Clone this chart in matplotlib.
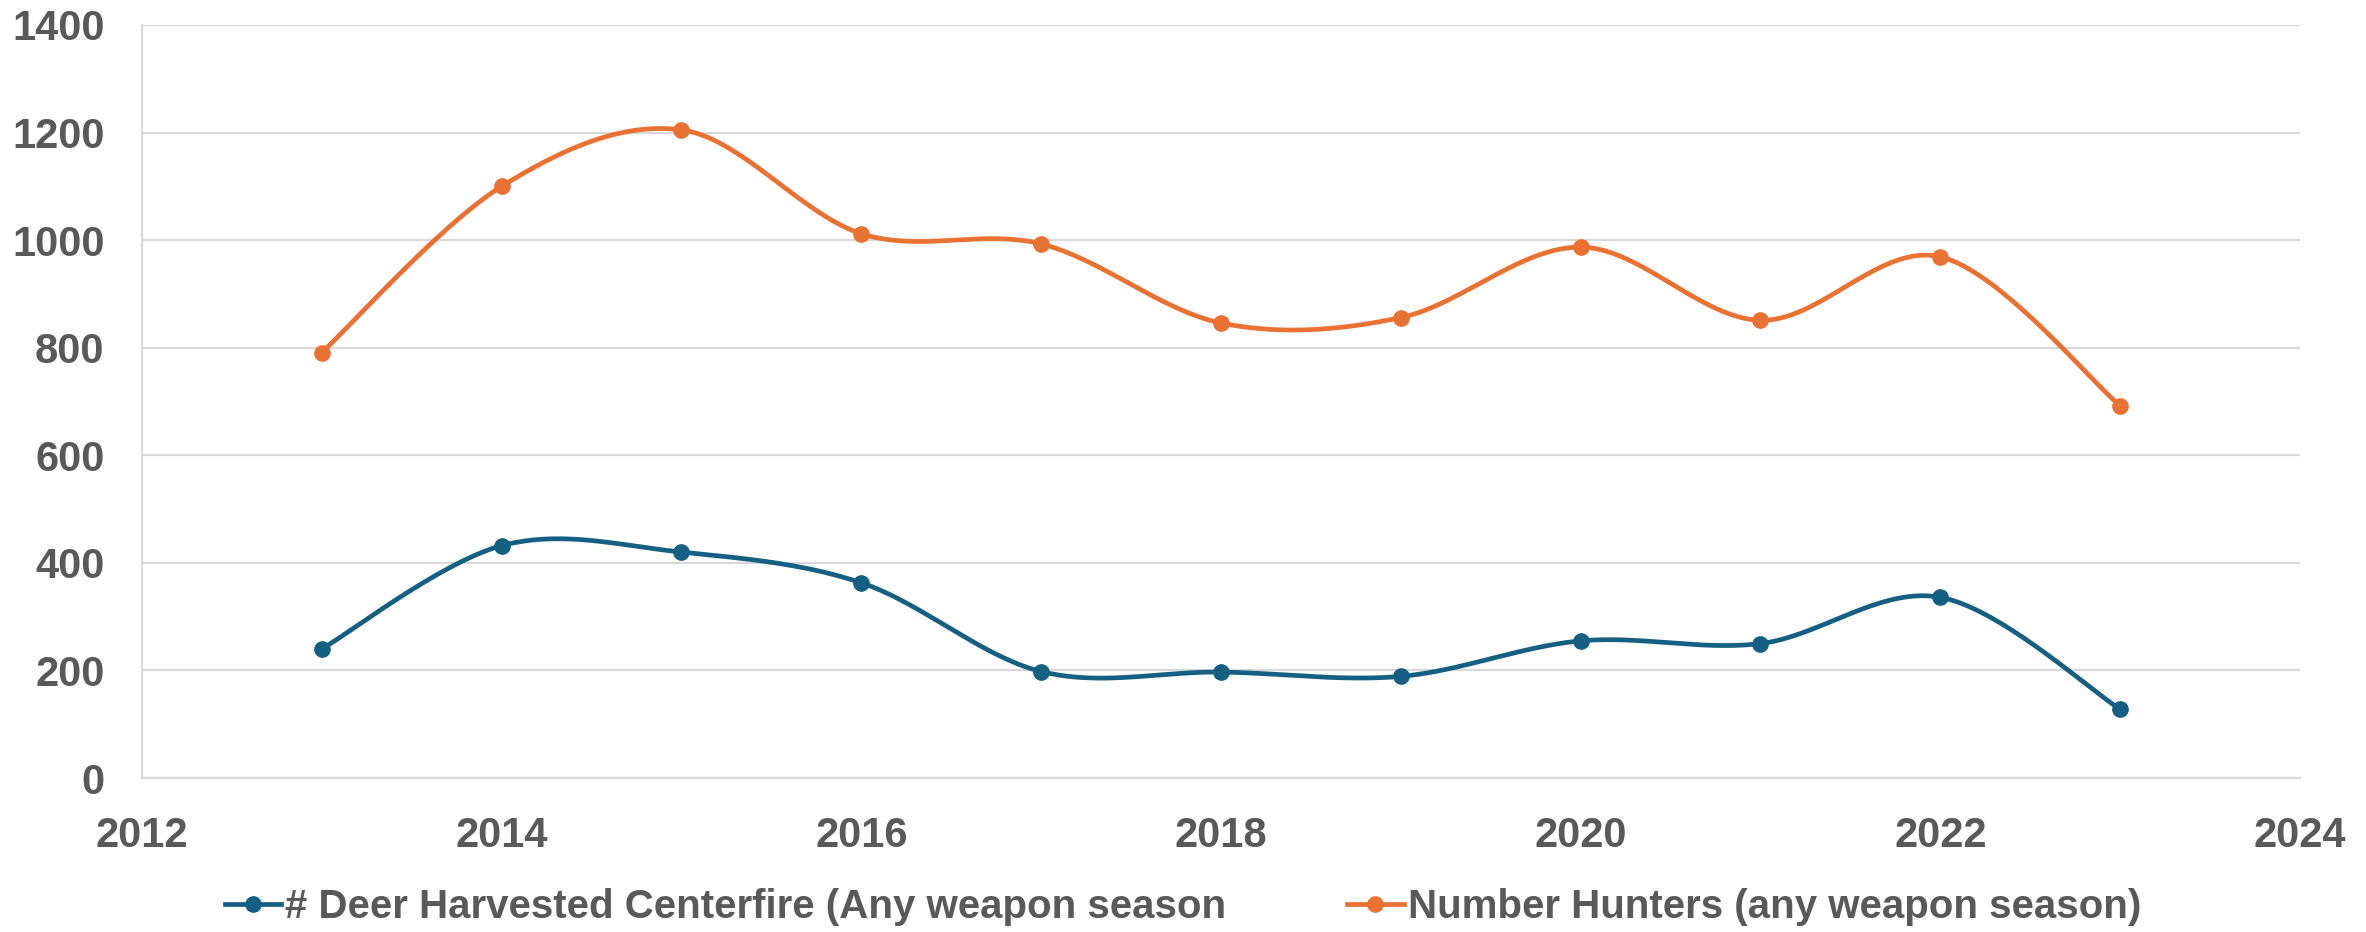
import numpy as np
import matplotlib
matplotlib.use("Agg")
import matplotlib.pyplot as plt
from matplotlib.lines import Line2D

# data
years = [2013, 2014, 2015, 2016, 2017, 2018, 2019, 2020, 2021, 2022, 2023]
deer_harvested = [240, 432, 420, 363, 198, 197, 189, 255, 250, 336, 128]
num_hunters = [791, 1100, 1205, 1012, 993, 846, 856, 987, 851, 969, 692]

BLUE = "#156082"
ORANGE = "#E97132"
GREY_TXT = "#595959"
GRID = "#D9D9D9"


def smooth(x, y, n=40):
    # Excel-like smoothed line: cubic bezier through points, catmull-rom controls
    x = np.asarray(x, float)
    y = np.asarray(y, float)
    px = np.concatenate([[x[0]], x, [x[-1]]])
    py = np.concatenate([[y[0]], y, [y[-1]]])
    t = np.linspace(0, 1, n)[:, None]
    xs, ys = [], []
    for i in range(1, len(px) - 2):
        p0 = np.array([px[i], py[i]])
        p3 = np.array([px[i + 1], py[i + 1]])
        c1 = p0 + (np.array([px[i + 1], py[i + 1]]) - np.array([px[i - 1], py[i - 1]])) / 6
        c2 = p3 - (np.array([px[i + 2], py[i + 2]]) - np.array([px[i], py[i]])) / 6
        pts = ((1 - t) ** 3) * p0 + 3 * ((1 - t) ** 2) * t * c1 + 3 * (1 - t) * t ** 2 * c2 + t ** 3 * p3
        xs.append(pts[:, 0])
        ys.append(pts[:, 1])
    return np.concatenate(xs), np.concatenate(ys)


plt.rcParams['font.family'] = ['Liberation Sans', 'DejaVu Sans']
plt.rcParams['font.weight'] = 'bold'
FS = 30

fig = plt.figure(figsize=(23.66, 9.32), dpi=100)
ax = fig.add_axes([0.060, 0.1652, 0.9121, 0.808])

for vals, col in [(deer_harvested, BLUE), (num_hunters, ORANGE)]:
    sx, sy = smooth(years, vals)
    ax.plot(sx, sy, color=col, lw=3.4, solid_capstyle='round', zorder=3)
    ax.plot(years, vals, 'o', color=col, ms=11, zorder=4)

ax.set_xlim(2012, 2024)
ax.set_ylim(0, 1400)
ax.set_xticks(np.arange(2012, 2025, 2))
ax.set_yticks(np.arange(0, 1401, 200))
ax.yaxis.grid(True, color=GRID, lw=1.6)
ax.set_axisbelow(True)

for s in ['top', 'right']:
    ax.spines[s].set_visible(False)
for s in ['left', 'bottom']:
    ax.spines[s].set_color(GRID)
    ax.spines[s].set_linewidth(1.6)

ax.tick_params(axis='both', length=0, labelsize=FS, labelcolor=GREY_TXT)
ax.tick_params(axis='y', pad=27)
ax.tick_params(axis='x', pad=27)
for lab in ax.get_xticklabels() + ax.get_yticklabels():
    lab.set_fontweight('bold')

handles = [
    Line2D([], [], color=BLUE, lw=3.4, marker='o', ms=11),
    Line2D([], [], color=ORANGE, lw=3.4, marker='o', ms=11),
]
labels = ["# Deer Harvested Centerfire (Any weapon season",
          "Number Hunters (any weapon season)"]
leg = fig.legend(handles, labels, loc='center', bbox_to_anchor=(0.5, 0.027),
                 ncol=2, frameon=False, handlelength=1.4, handletextpad=0.1,
                 columnspacing=3.0, prop={'size': 29, 'weight': 'bold'})
for t in leg.get_texts():
    t.set_color(GREY_TXT)

fig.savefig("out.png", dpi=100)
